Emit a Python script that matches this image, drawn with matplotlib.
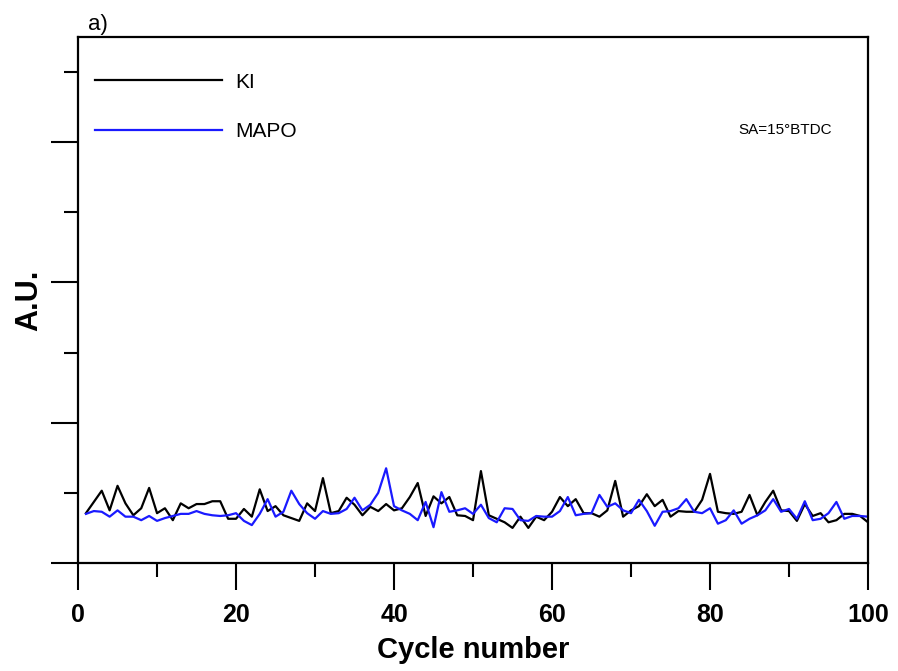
import numpy as np
import matplotlib.pyplot as plt
from matplotlib.ticker import MultipleLocator, NullFormatter

plt.rcParams['font.family'] = ['Liberation Sans', 'DejaVu Sans']

cycles = list(range(1, 101))
ki = [0.71, 0.87, 1.03, 0.75, 1.10, 0.85, 0.68, 0.78, 1.07, 0.71,
      0.78, 0.61, 0.85, 0.78, 0.84, 0.84, 0.88, 0.88, 0.63, 0.63,
      0.77, 0.66, 1.05, 0.74, 0.81, 0.68, 0.64, 0.60, 0.85, 0.74,
      1.21, 0.71, 0.74, 0.93, 0.83, 0.68, 0.80, 0.74, 0.84, 0.75,
      0.78, 0.94, 1.14, 0.67, 0.95, 0.85, 0.94, 0.68, 0.67, 0.61,
      1.31, 0.68, 0.63, 0.58, 0.50, 0.66, 0.50, 0.66, 0.61, 0.73,
      0.94, 0.81, 0.91, 0.71, 0.71, 0.66, 0.75, 1.17, 0.66, 0.75,
      0.81, 0.98, 0.81, 0.90, 0.66, 0.74, 0.73, 0.73, 0.90, 1.27,
      0.73, 0.71, 0.70, 0.73, 0.97, 0.68, 0.87, 1.03, 0.75, 0.74,
      0.60, 0.84, 0.67, 0.71, 0.58, 0.61, 0.70, 0.70, 0.67, 0.58]
mapo = [0.70, 0.74, 0.73, 0.66, 0.75, 0.66, 0.66, 0.61, 0.67, 0.60,
        0.64, 0.67, 0.70, 0.70, 0.74, 0.70, 0.68, 0.67, 0.68, 0.71,
        0.60, 0.54, 0.70, 0.91, 0.66, 0.73, 1.03, 0.84, 0.71, 0.63,
        0.74, 0.70, 0.71, 0.77, 0.93, 0.75, 0.83, 1.00, 1.35, 0.81,
        0.75, 0.70, 0.61, 0.87, 0.51, 1.01, 0.73, 0.75, 0.78, 0.70,
        0.83, 0.64, 0.58, 0.78, 0.77, 0.61, 0.60, 0.67, 0.66, 0.66,
        0.74, 0.94, 0.68, 0.70, 0.71, 0.97, 0.80, 0.85, 0.75, 0.71,
        0.90, 0.74, 0.53, 0.73, 0.74, 0.78, 0.91, 0.73, 0.71, 0.78,
        0.56, 0.61, 0.75, 0.56, 0.63, 0.68, 0.75, 0.91, 0.73, 0.77,
        0.63, 0.88, 0.61, 0.63, 0.71, 0.87, 0.63, 0.67, 0.67, 0.66]

fig = plt.figure(figsize=(8.98, 6.71), dpi=100)
ax = fig.add_axes([0.0869, 0.161, 0.8797, 0.784])

ax.plot(cycles, ki, color='black', lw=1.6, label='KI')
ax.plot(cycles, mapo, color='#1a1aff', lw=1.6, label='MAPO')

ax.set_xlim(0, 100)
ax.set_ylim(0, 7.5)
ax.xaxis.set_major_locator(MultipleLocator(20))
ax.xaxis.set_minor_locator(MultipleLocator(10))
ax.yaxis.set_major_locator(MultipleLocator(2))
ax.yaxis.set_minor_locator(MultipleLocator(1))
ax.yaxis.set_major_formatter(NullFormatter())
ax.tick_params(which='major', direction='out', length=19.5, width=1.5)
ax.tick_params(which='minor', direction='out', length=10, width=1.5)
ax.tick_params(axis='x', labelsize=18, pad=9)
ax.tick_params(right=False, top=False)
for lbl in ax.get_xticklabels():
    lbl.set_fontweight('bold')
for s in ax.spines.values():
    s.set_linewidth(1.6)

ax.set_xlabel('Cycle number', fontsize=21, fontweight='bold', labelpad=6.5)
ax.set_ylabel('A.U.', fontsize=22, fontweight='bold', labelpad=1)

ax.legend(loc='upper left', bbox_to_anchor=(0.011, 0.948), frameon=False,
          borderaxespad=0, fontsize=15, handlelength=6.1, handletextpad=0.65,
          labelspacing=1.45)
ax.text(0.955, 0.823, 'SA=15°BTDC', transform=ax.transAxes, ha='right',
        va='center', fontsize=11)
ax.text(0.012, 1.013, 'a)', transform=ax.transAxes, ha='left',
        va='baseline', fontsize=16)

fig.savefig('out.png', dpi=100)
